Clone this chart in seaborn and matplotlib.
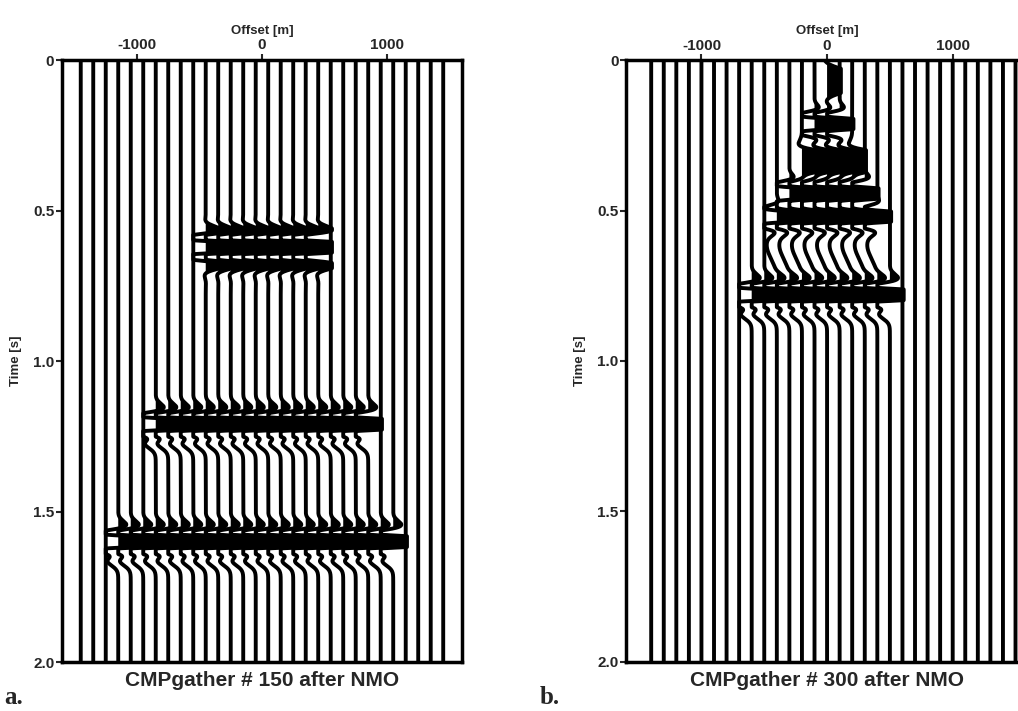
import numpy as np
import pandas as pd
import matplotlib
matplotlib.use("Agg")
import matplotlib.pyplot as plt
import seaborn as sns

# ---- trace layout of the two CMP gathers (offset in m) ----
offsets_150 = np.arange(-1450, 1451, 100)
offsets_300 = np.arange(-1400, 1501, 100)
TRACE_SPACING = 100.0

# ---- reflection events after NMO ----
# zero-offset time (s), first / last live trace (m), peak amplitude (trace spacings),
# dominant frequency (Hz), envelope width before / after the peak (s),
# slow positive swing before the event and slow negative swing after it
# (trace spacings), length of the after-swing (s)
ev150_time = [0.622, 1.21, 1.60]
ev150_first = [-450, -850, -1150]
ev150_last = [450, 850, 1050]
ev150_amp = [6.0, 8.0, 8.0]
ev150_freq = [15.0, 15.0, 15.0]
ev150_sig_pre = [0.045, 0.030, 0.030]
ev150_sig_post = [0.050, 0.030, 0.030]
ev150_pre_swing = [0.0, 0.45, 0.45]
ev150_post_swing = [0.0, 1.0, 1.0]
ev150_post_len = [0.025, 0.025, 0.025]

ev300_time = [0.07, 0.212, 0.335, 0.443, 0.52, 0.78]
ev300_first = [0, -100, -200, -300, -400, -600]
ev300_last = [0, 100, 200, 300, 400, 500]
ev300_amp = [3.0, 5.0, 6.0, 5.0, 5.0, 8.0]
ev300_freq = [5.0, 15.0, 6.5, 15.0, 15.0, 15.0]
ev300_sig_pre = [0.06, 0.035, 0.04, 0.035, 0.03, 0.030]
ev300_sig_post = [0.05, 0.035, 0.04, 0.035, 0.035, 0.030]
ev300_pre_swing = [0.0, 0.0, 0.0, 0.0, 0.0, 0.45]
ev300_post_swing = [0.0, 0.0, 0.0, 0.0, 0.8, 1.0]
ev300_post_len = [0.025, 0.025, 0.025, 0.025, 0.06, 0.025]

PEAK_BIAS = 0.35  # broadens the positive lobes relative to the troughs
CLIP_POS = 1.1    # clip of positive lobes, in trace spacings
CLIP_NEG = 1.0    # clip of negative lobes, in trace spacings

time = np.arange(0.0, 2.0005, 0.001)


def wavelet(tau, a, f, s_pre, s_post, pre, post, post_len):
    sig = np.where(tau < 0, s_pre, s_post)
    w = a * (np.cos(2 * np.pi * f * tau) + PEAK_BIAS) * np.exp(-(tau / sig) ** 2)
    w += pre * np.exp(-((tau + 0.06) / 0.018) ** 2)
    w -= post * np.exp(-((tau - (0.035 + post_len)) / post_len) ** 2)
    return w


def build_gather(offsets, events):
    frames = []
    for off in offsets:
        amp = np.zeros_like(time)
        for t0, o1, o2, *pars in zip(*events):
            if o1 <= off <= o2:
                amp += wavelet(time - t0, *pars)
        amp = np.clip(amp, -CLIP_NEG, CLIP_POS)
        frames.append(pd.DataFrame({
            "offset": off,
            "time": time,
            "x": off + TRACE_SPACING * amp,
        }))
    return pd.concat(frames, ignore_index=True)


gather_150 = build_gather(offsets_150, (ev150_time, ev150_first, ev150_last, ev150_amp,
                                        ev150_freq, ev150_sig_pre, ev150_sig_post,
                                        ev150_pre_swing, ev150_post_swing, ev150_post_len))
gather_300 = build_gather(offsets_300, (ev300_time, ev300_first, ev300_last, ev300_amp,
                                        ev300_freq, ev300_sig_pre, ev300_sig_post,
                                        ev300_pre_swing, ev300_post_swing, ev300_post_len))

sns.set_style("ticks")
plt.rcParams["font.family"] = ["Liberation Sans", "DejaVu Sans"]
plt.rcParams["font.weight"] = "bold"

fig = plt.figure(figsize=(10.18, 7.11), dpi=100)
ax_a = fig.add_axes([0.0609, 0.0689, 0.3929, 0.8467])
ax_b = fig.add_axes([0.6150, 0.0693, 0.3949, 0.8460])


def draw_gather(ax, data, title, letter, letter_x):
    # variable-area fill of the positive lobes
    for off, tr in data.groupby("offset"):
        ax.fill_betweenx(tr["time"].values, off, tr["x"].values,
                         where=tr["x"].values > off, interpolate=True,
                         color="black", linewidth=0)
    sns.lineplot(data=data, x="x", y="time", units="offset", estimator=None,
                 sort=False, color="black", linewidth=2.8, legend=False, ax=ax)
    ax.set_xlim(-1600, 1600)
    ax.set_ylim(2.0, 0.0)
    ax.xaxis.tick_top()
    ax.xaxis.set_label_position("top")
    ax.set_xticks([-1000, 0, 1000])
    ax.set_xticklabels(["-1000", "0", "1000"])
    ax.set_yticks([0, 0.5, 1.0, 1.5, 2.0])
    ax.set_yticklabels(["0", "0.5", "1.0", "1.5", "2.0"])
    ax.tick_params(axis="both", direction="out", length=4, width=1.5,
                   labelsize=11, pad=1.5)
    for lab in ax.get_xticklabels() + ax.get_yticklabels():
        lab.set_fontweight("bold")
    ax.set_xlabel("Offset [m]", fontsize=9.5, fontweight="bold", labelpad=3)
    ax.set_ylabel("Time [s]", fontsize=9.5, fontweight="bold", labelpad=8)
    for sp in ax.spines.values():
        sp.set_visible(True)
        sp.set_linewidth(2.5)
        sp.set_color("black")
    ax.text(0.5, -0.015, title, transform=ax.transAxes, ha="center", va="top",
            fontsize=15, fontweight="bold")
    fig.text(letter_x, 0.003, letter, ha="left", va="bottom",
             family="Liberation Serif", fontsize=18, fontweight="bold")


draw_gather(ax_a, gather_150, "CMPgather # 150 after NMO", "a.", 0.004)
draw_gather(ax_b, gather_300, "CMPgather # 300 after NMO", "b.", 0.530)

fig.savefig("out.png", dpi=100, facecolor="white")
